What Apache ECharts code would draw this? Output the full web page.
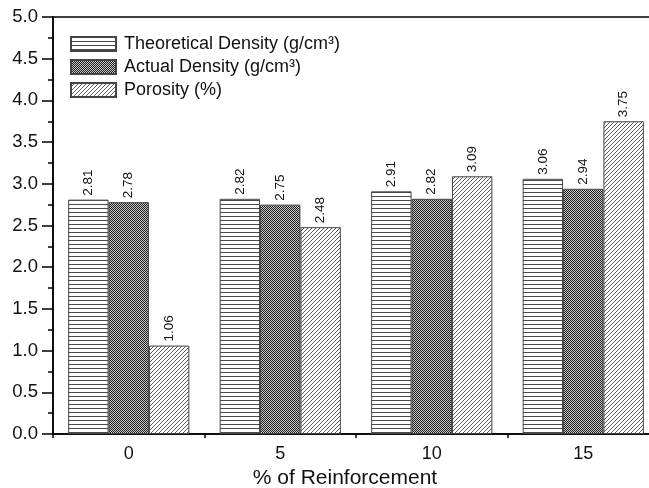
<!DOCTYPE html>
<html><head><meta charset="utf-8">
<script src="https://cdn.jsdelivr.net/npm/echarts@6/dist/echarts.min.js"></script>
<style>html,body{margin:0;padding:0;background:#fff}#c{width:649px;height:488px}</style>
</head><body><div id="c"></div>
<script>
const categories = ['0', '5', '10', '15'];
const theoretical = [2.81, 2.82, 2.91, 3.06];
const actual = [2.78, 2.75, 2.82, 2.94];
const porosity = [1.06, 2.48, 3.09, 3.75];
const seriesNames = ['Theoretical Density (g/cm\u00B3)', 'Actual Density (g/cm\u00B3)', 'Porosity (%)'];
const yTicks = [0, 0.5, 1.0, 1.5, 2.0, 2.5, 3.0, 3.5, 4.0, 4.5, 5.0];

function mk(w, h, draw) {
  const c = document.createElement('canvas'); c.width = w; c.height = h;
  const g = c.getContext('2d'); draw(g); return c;
}
const horiz = mk(8, 4, g => { g.fillStyle = '#fff'; g.fillRect(0,0,8,4); g.fillStyle = '#4a4a4a'; g.fillRect(0,0,8,1); });
const cross = mk(2, 2, g => { g.fillStyle = '#c8c8c8'; g.fillRect(0,0,2,2); g.fillStyle = '#1e1e1e'; g.fillRect(0,0,1,1); g.fillRect(1,1,1,1); });
const diag = mk(4, 4, g => { g.fillStyle = '#fff'; g.fillRect(0,0,4,4); g.strokeStyle = '#5a5a5a'; g.lineWidth = 1;
  for (let k = -4; k <= 8; k += 4) { g.beginPath(); g.moveTo(k, 4); g.lineTo(k + 4, 0); g.stroke(); } });
const pats = [horiz, cross, diag];
const datas = [theoretical, actual, porosity];

const font = 'Liberation Sans, Arial, sans-serif';
const chart = echarts.init(document.getElementById('c'), null, {renderer: 'canvas'});
chart.setOption({
  animation: false,
  backgroundColor: '#fff',
  grid: {left: 53, top: 17, bottom: 54, right: -10, show: true, borderColor: '#000', borderWidth: 1.5,
    containLabel: false, outerBoundsMode: 'none'},
  legend: {
    orient: 'vertical', left: 70, top: 35, padding: 0, icon: 'rect',
    itemWidth: 45, itemHeight: 14, itemGap: 5,
    textStyle: {fontFamily: font, fontSize: 18, color: '#111', padding: [0, 0, 0, 3]},
    data: seriesNames
  },
  xAxis: [{
    type: 'category', data: categories,
    axisLine: {lineStyle: {color: '#000', width: 1.5}},
    axisTick: {alignWithLabel: true, length: 7, lineStyle: {color: '#000', width: 1.5}},
    axisLabel: {fontFamily: font, fontSize: 18, color: '#111', margin: 11},
    name: '% of Reinforcement', nameLocation: 'middle', nameGap: 34,
    nameTextStyle: {fontFamily: font, fontSize: 21, color: '#111', padding: [0, 22, 0, 0]}
  }, {
    type: 'category', data: categories, position: 'bottom',
    axisLine: {show: false}, axisLabel: {show: false},
    axisTick: {show: true, length: 4, lineStyle: {color: '#000', width: 1.5}}
  }],
  yAxis: {
    type: 'value', min: 0, max: 5, interval: 0.5,
    axisLine: {show: true, lineStyle: {color: '#000', width: 1.5}},
    axisTick: {show: true, length: 11, lineStyle: {color: '#000', width: 1.5}},
    minorTick: {show: true, splitNumber: 2, length: 5, lineStyle: {color: '#000', width: 1.5}},
    splitLine: {show: false},
    axisLabel: {fontFamily: font, fontSize: 18.5, color: '#111', margin: 15,
      formatter: v => v.toFixed(1)}
  },
  series: datas.map((d, i) => ({
    name: seriesNames[i], type: 'bar', data: d, xAxisIndex: 0,
    barGap: '0%', barCategoryGap: '20%',
    itemStyle: {color: {image: pats[i], repeat: 'repeat'}, borderColor: '#444', borderWidth: 1},
    label: {show: true, position: 'top', rotate: 90, align: 'left', verticalAlign: 'middle', distance: 4,
      fontFamily: font, fontSize: 13.5, color: '#111', formatter: p => p.value.toFixed(2)}
  }))
});
</script></body></html>
